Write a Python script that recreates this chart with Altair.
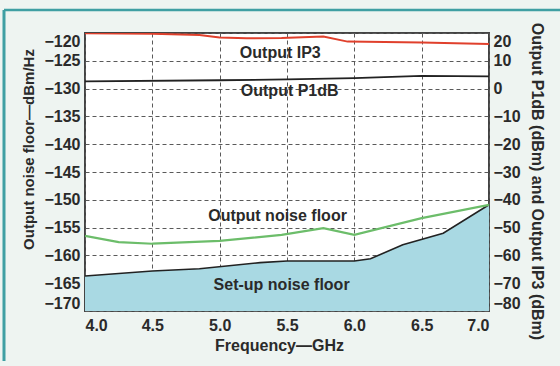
import altair as alt
import pandas as pd

# ---- data ----
ip3_freq = [4.0, 4.5, 4.85, 5.0, 5.2, 5.46, 5.77, 5.95, 6.5, 7.0]
ip3_dbm = [19.9, 19.7, 19.3, 18.4, 18.1, 18.2, 18.7, 16.9, 16.6, 16.0]

p1db_freq = [4.0, 5.0, 5.5, 6.0, 6.5, 7.0]
p1db_dbm = [2.6, 3.0, 3.3, 3.8, 4.6, 4.4]

noise_freq = [4.0, 4.25, 4.5, 5.0, 5.25, 5.46, 5.77, 6.0, 6.5, 7.0]
noise_db = [-156.5, -157.6, -157.9, -157.4, -156.8, -156.3, -155.1, -156.3, -153.3, -150.9]

setup_freq = [4.0, 4.5, 4.85, 5.3, 5.5, 6.0, 6.12, 6.36, 6.66, 7.0]
setup_db = [-163.7, -162.8, -162.4, -161.3, -161.0, -161.0, -160.6, -158.1, -156.0, -150.9]

label_text = ["Output noise floor", "Set-up noise floor"]
label_freq = [5.43, 5.46]
label_db = [-152.9, -165.3]

right_label_text = ["Output IP3", "Output P1dB"]
right_label_freq = [5.45, 5.52]
right_label_dbm = [12.8, -1.0]

x_ticks = [4.0, 4.5, 5.0, 5.5, 6.0, 6.5, 7.0]
left_ticks = [-170, -165, -160, -155, -150, -145, -140, -135, -130, -125, -120]
right_ticks = [-80, -70, -60, -50, -40, -30, -20, -10, 0, 10, 20]

FONT = "Liberation Sans"
W, H = 404, 278
GRID = "#5a5a5a"

ip3 = pd.DataFrame({"f": ip3_freq, "v": ip3_dbm})
p1 = pd.DataFrame({"f": p1db_freq, "v": p1db_dbm})
noise = pd.DataFrame({"f": noise_freq, "v": noise_db})
setup = pd.DataFrame({"f": setup_freq, "v": setup_db})
lab = pd.DataFrame({"t": label_text, "f": label_freq, "v": label_db})
rlab = pd.DataFrame({"t": right_label_text, "f": right_label_freq, "v": right_label_dbm})

xscale = alt.Scale(domain=[4.0, 7.0], nice=False, zero=False)
xaxis = alt.Axis(values=x_ticks, format=".1f", title="Frequency\u2014GHz",
                 grid=True, gridDash=[4, 3], gridColor=GRID, gridWidth=1,
                 labelFlush=True, ticks=False, domain=False, labelPadding=6,
                 titleX=194, titleY=34, titleBaseline="middle")
lscale = alt.Scale(domain=[-170, -120], nice=False, zero=False)
laxis = alt.Axis(orient="left", values=left_ticks, title="Output noise floor\u2014dBm/Hz",
                 grid=True, gridDash=[4, 3], gridColor=GRID, gridWidth=1,
                 labelFlush=True, ticks=False, domain=False, labelPadding=5,
                 titleX=-57, titleY=116, titleBaseline="middle", titleFontSize=15)
rscale = alt.Scale(domain=[-80, 20], nice=False, zero=False)
raxis = alt.Axis(orient="right", values=right_ticks,
                 title="Output P1dB (dBm) and Output IP3 (dBm)",
                 grid=False, labelFlush=True, ticks=False, domain=False, labelPadding=4,
                 titleX=47, titleY=148, titleBaseline="middle", titleFontSize=16)

X = alt.X("f:Q", scale=xscale, axis=xaxis)

area = alt.Chart(setup).mark_area(color="#a9d9e3", opacity=1, clip=True).encode(
    x=X, y=alt.Y("v:Q", scale=lscale, axis=laxis), y2=alt.datum(-170))
setup_line = alt.Chart(setup).mark_line(color="#222222", strokeWidth=1.6, clip=True).encode(
    x=X, y=alt.Y("v:Q", scale=lscale, axis=laxis))
noise_line = alt.Chart(noise).mark_line(color="#6cbd6a", strokeWidth=2.2, clip=True).encode(
    x=X, y=alt.Y("v:Q", scale=lscale, axis=laxis))
labels = alt.Chart(lab).mark_text(font=FONT, fontWeight="bold", fontSize=16,
                                  color="#2a2a2a", baseline="middle").encode(
    x=X, y=alt.Y("v:Q", scale=lscale, axis=laxis), text="t:N")

left = alt.layer(area, setup_line, noise_line, labels)

ip3_line = alt.Chart(ip3).mark_line(color="#e0402c", strokeWidth=2, clip=True).encode(
    x=X, y=alt.Y("v:Q", scale=rscale, axis=raxis))
p1_line = alt.Chart(p1).mark_line(color="#222222", strokeWidth=1.8, clip=True).encode(
    x=X, y=alt.Y("v:Q", scale=rscale, axis=raxis))
rlabels = alt.Chart(rlab).mark_text(font=FONT, fontWeight="bold", fontSize=16,
                                    color="#2a2a2a", baseline="middle").encode(
    x=X, y=alt.Y("v:Q", scale=rscale, axis=raxis), text="t:N")

right = alt.layer(ip3_line, p1_line, rlabels)

# decorative teal frame (top and left edges of the figure panel)
frame_top = alt.Chart(pd.DataFrame({"a": [0]})).mark_rule(
    color="#3f9fa3", strokeWidth=2.5, clip=False).encode(
    x=alt.value(-81), x2=alt.value(475), y=alt.value(-23))
frame_left = alt.Chart(pd.DataFrame({"a": [0]})).mark_rule(
    color="#3f9fa3", strokeWidth=3, clip=False).encode(
    x=alt.value(-81), y=alt.value(-23), y2=alt.value(328))

chart = alt.layer(left, right, frame_top, frame_left).resolve_scale(y="independent").properties(
    width=W, height=H,
    autosize=alt.AutoSizeParams(type="none"),
    padding={"left": 85, "top": 33, "right": 71, "bottom": 55},
    background="#eef4f1",
).configure_view(
    fill="white", stroke="#444444", strokeWidth=2
).configure_axis(
    labelFont=FONT, labelFontSize=16, labelFontWeight="bold", labelColor="#2a2a2a",
    titleFont=FONT, titleFontSize=16, titleFontWeight="bold", titleColor="#2a2a2a",
)

chart.save("out.html", embed_options={"renderer": "svg", "actions": False})
